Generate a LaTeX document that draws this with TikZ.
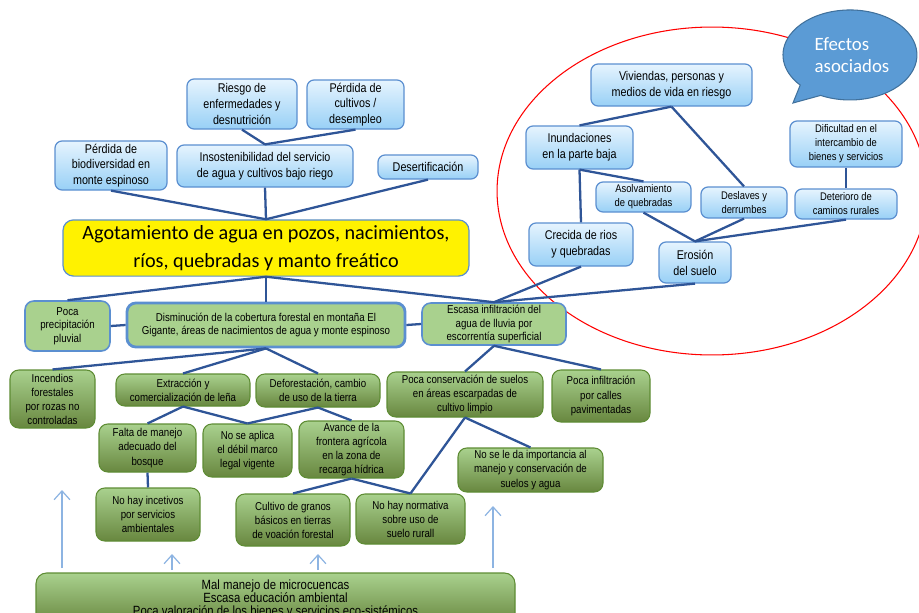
\documentclass[tikz,border=0pt]{standalone}
\usepackage{fontspec}
\setmainfont{Liberation Sans}[FakeStretch=0.85]
\newfontfamily\calibri{Carlito}
\usetikzlibrary{arrows.meta,shapes,calc}

\definecolor{edgeblue}{HTML}{2F5597}
\definecolor{bluebord}{HTML}{5B8FD0}
\definecolor{bluetop}{HTML}{E6F4FE}
\definecolor{bluebot}{HTML}{98D0F6}
\definecolor{grtop}{HTML}{A9D18E}
\definecolor{grbot}{HTML}{68873F}
\definecolor{grbord}{HTML}{5E8C34}
\definecolor{flatgr}{HTML}{A9D18E}
\definecolor{upblue}{HTML}{8DB4E2}
\definecolor{bubble}{HTML}{5B9BD5}
\definecolor{bubbord}{HTML}{41719C}

\tikzset{wh/.style 2 args={minimum width=#1*0.02cm,minimum height=#2*0.02cm}}
\tikzstyle{bluebox}=[rectangle,rounded corners=4pt,draw=bluebord,line width=0.7pt,top color=bluetop,bottom color=bluebot,align=center,inner sep=0pt,font=\fontsize{7.2}{9}\selectfont]
\tikzstyle{smallblue}=[bluebox,font=\fontsize{6.3}{8}\selectfont]
\tikzstyle{flatbox}=[rectangle,rounded corners=5pt,draw=bluebord,line width=0.9pt,fill=flatgr,align=center,inner sep=0pt,font=\fontsize{6.5}{7.8}\selectfont]
\tikzstyle{greenbox}=[rectangle,rounded corners=5pt,draw=grbord,line width=0.6pt,top color=grtop,bottom color=grbot,align=center,inner sep=0pt,font=\fontsize{6.5}{8}\selectfont]
\tikzstyle{edge}=[draw=edgeblue,line width=1.3pt]
\tikzstyle{uparrow}=[draw=upblue,line width=0.7pt,-{Straight Barb[length=5pt,width=9pt]}]

\begin{document}
\begin{tikzpicture}[x=0.02cm,y=-0.02cm]
    \useasboundingbox (0,0) rectangle (919,612);

    % effects area
    \draw[red,line width=0.6pt] (712,191) ellipse (4.3cm and 3.28cm);

    % top: effects of the depletion
    \node[bluebox,wh={110}{50}] (riesgo) at (242,104) {Riesgo de\\enfermedades y\\desnutrición};
    \node[bluebox,wh={97}{49}] (perdcult) at (355.5,104.5) {Pérdida de\\cultivos /\\desempleo};
    \node[bluebox,wh={112}{49}] (perdbio) at (111,165.5) {Pérdida de\\biodiversidad en\\monte espinoso};
    \node[bluebox,wh={176}{42}] (insost) at (265,166) {Insostenibilidad del servicio\\de agua y cultivos bajo riego};
    \node[bluebox,wh={100}{24}] (desert) at (428,167) {Desertificación};

    \node[rectangle,rounded corners=6pt,draw=bluebord,line width=0.7pt,fill=yellow,wh={406}{54},align=center,
          font=\calibri\fontsize{11.5}{15.5}\selectfont] (agot) at (266,248)
          {Agotamiento de agua en pozos, nacimientos,\\ríos, quebradas y manto freático};

    % right side, inside the ellipse
    \node[bluebox,wh={161}{42}] (vivi) at (671.5,85) {Viviendas, personas y\\medios de vida en riesgo};
    \node[bluebox,wh={107}{43}] (inund) at (579.5,147.5) {Inundaciones\\en la parte baja};
    \node[smallblue,wh={112}{46}] (dific) at (846,144) {Dificultad en el\\intercambio de\\bienes y servicios};
    \node[smallblue,wh={95}{30}] (asolv) at (643.5,197) {Asolvamiento\\de quebradas};
    \node[smallblue,wh={86}{31}] (deslav) at (744,202.5) {Deslaves y\\derrumbes};
    \node[smallblue,wh={102}{30}] (deter) at (846,204) {Deterioro de\\caminos rurales};
    \node[bluebox,wh={104}{43}] (crecida) at (581,244.5) {Crecida de rios\\y quebradas};
    \node[bluebox,wh={72}{41}] (erosion) at (695,262.5) {Erosión\\del suelo};

    % speech bubble
    \draw[fill=bubble,draw=bubbord,line width=0.6pt] (820.6,95.4)
        arc[start angle=244,end angle=582,x radius=1.34cm,y radius=0.9cm] -- (793,103) -- cycle;
    \node[align=left,text=white,font=\calibri\fontsize{10.7}{12.5}\selectfont] (efectos) at (852,55) {Efectos\\asociados};

    % direct causes
    \node[flatbox,wh={85}{50}] (pocaprec) at (67.5,326) {Poca\\precipitación\\pluvial};
    \node[flatbox,line width=1.6pt,wh={278}{44}] (dismin) at (266,325)
          {Disminución de la cobertura forestal en montaña El\\Gigante, áreas de nacimientos de agua y monte espinoso};
    \node[flatbox,wh={144}{42}] (escasa) at (494,324) {Escasa infiltración del\\agua de lluvia por\\escorrentía superficial};

    % underlying causes
    \node[greenbox,wh={85}{58}] (incend) at (52.5,399) {Incendios\\forestales\\por rozas no\\controladas};
    \node[greenbox,wh={134}{32}] (extrac) at (183,390) {Extracción y\\comercialización de leña};
    \node[greenbox,wh={124}{33}] (defor) at (318,390.5) {Deforestación, cambio\\de uso de la tierra};
    \node[greenbox,wh={156}{45}] (pococons) at (465,394.5) {Poca conservación de suelos\\en áreas escarpadas de\\cultivo limpio};
    \node[greenbox,wh={98}{52}] (pocainf) at (601,396) {Poca infiltración\\por calles\\pavimentadas};
    \node[greenbox,wh={97}{48}] (falta) at (147.5,448) {Falta de manejo\\adecuado del\\bosque};
    \node[greenbox,wh={89}{53}] (noaplica) at (247.5,450.5) {No se aplica\\el débil marco\\legal vigente};
    \node[greenbox,wh={105}{57}] (avance) at (351.5,449.5) {Avance de la\\frontera agrícola\\en la zona de\\recarga hídrica};
    \node[greenbox,wh={145}{44}] (noseleda) at (530.5,470) {No se le da importancia al\\manejo y conservación de\\suelos y agua};
    \node[greenbox,wh={104}{53}] (noincet) at (148,514.5) {No hay incetivos\\por servicios\\ambientales};
    \node[greenbox,wh={114}{52}] (cultivo) at (293,520) {Cultivo de granos\\básicos en tierras\\de voación forestal};
    \node[greenbox,wh={109}{50}] (nonorma) at (410.5,519) {No hay normativa\\sobre uso de\\suelo rurall};

    \node[greenbox,rounded corners=6pt,wh={479}{52},font=\fontsize{7.6}{7.6}\selectfont] (base) at (275.5,599)
          {Mal manejo de microcuencas\\Escasa educación ambiental\\Poca valoración de los bienes y servicios eco-sistémicos};

    % Connect boxes, bottom of one to top of the next
    \foreach \source/\dest in {riesgo/insost,perdcult/insost,perdbio/agot,insost/agot,desert/agot,
        agot/pocaprec,agot/dismin,agot/escasa,crecida/escasa,erosion/escasa,
        vivi/inund,vivi/deslav,inund/crecida,inund/asolv,dific/deter,
        asolv/erosion,deslav/erosion,deter/erosion,
        dismin/incend,dismin/extrac,dismin/defor,escasa/pococons,escasa/pocainf,
        extrac/falta,extrac/noaplica,defor/noaplica,defor/avance,falta/noincet,
        avance/cultivo,avance/nonorma,pococons/noseleda,pococons/nonorma}
        \draw[edge] (\source.south) -- (\dest.north);
    \draw[edge] (pocaprec.east) -- (dismin.west);
    \draw[edge] (dismin.east) -- (escasa.west);

    % arrows up from the root causes
    \foreach \i/\x/\a/\b in {1/62/568/490,2/172/570/554,3/318/570/554,4/493/568/506}{
        \coordinate (u\i) at (\x,\a);
        \coordinate (t\i) at (\x,\b);
        \draw[uparrow] (u\i) -- (t\i);
    }
\end{tikzpicture}
\end{document}
